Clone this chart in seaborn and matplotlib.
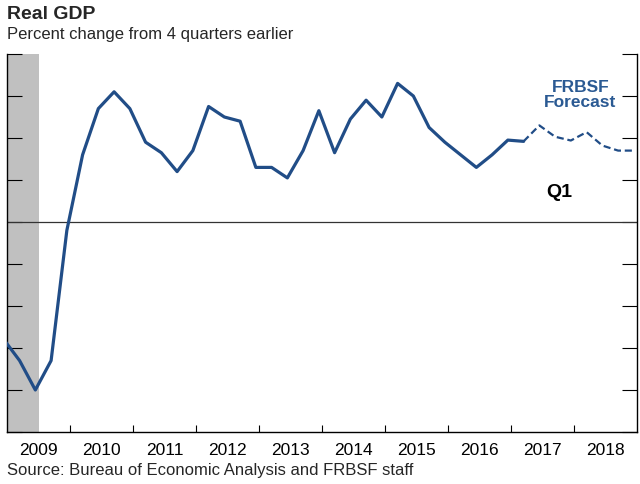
import matplotlib
matplotlib.use("Agg")
import matplotlib.pyplot as plt
import seaborn as sns
import pandas as pd
import numpy as np
from matplotlib.ticker import FixedLocator, NullFormatter, FixedFormatter

# ---- data ----
hist_quarters = ["2008Q4",
                 "2009Q1", "2009Q2", "2009Q3", "2009Q4",
                 "2010Q1", "2010Q2", "2010Q3", "2010Q4",
                 "2011Q1", "2011Q2", "2011Q3", "2011Q4",
                 "2012Q1", "2012Q2", "2012Q3", "2012Q4",
                 "2013Q1", "2013Q2", "2013Q3", "2013Q4",
                 "2014Q1", "2014Q2", "2014Q3", "2014Q4",
                 "2015Q1", "2015Q2", "2015Q3", "2015Q4",
                 "2016Q1", "2016Q2", "2016Q3", "2016Q4",
                 "2017Q1"]
hist_values = [-2.8,
               -3.3, -4.0, -3.3, -0.2,
               1.6, 2.7, 3.1, 2.7,
               1.9, 1.65, 1.2, 1.7,
               2.75, 2.5, 2.4, 1.3,
               1.3, 1.05, 1.7, 2.65,
               1.65, 2.45, 2.9, 2.5,
               3.3, 3.0, 2.25, 1.9,
               1.6, 1.3, 1.6, 1.95,
               1.92]
fcst_quarters = ["2017Q1", "2017Q2", "2017Q3", "2017Q4",
                 "2018Q1", "2018Q2", "2018Q3", "2018Q4"]
fcst_values = [1.92, 2.3, 2.03, 1.94, 2.14, 1.82, 1.7, 1.7]
year_labels = ["2009", "2010", "2011", "2012", "2013",
               "2014", "2015", "2016", "2017", "2018"]
recession = (2009.0, 2009.5)


def qpos(q):
    y, n = q.split("Q")
    return int(y) + 0.25 * int(n) - 0.05


hist = pd.DataFrame({"x": [qpos(q) for q in hist_quarters], "y": hist_values})
fcst = pd.DataFrame({"x": [qpos(q) for q in fcst_quarters], "y": fcst_values})

sns.set_style("white")
plt.rcParams["font.family"] = ["Liberation Sans", "DejaVu Sans"]

fig = plt.figure(figsize=(6.4, 4.85), dpi=100)
ax = fig.add_axes([7 / 640, 1 - 433 / 485, 630 / 640, 378 / 485])

blue = "#214d87"
ax.axvspan(recession[0], recession[1], color="#c0c0c0", lw=0, zorder=0)
ax.axhline(0, color="#333333", lw=0.9, zorder=1)

sns.lineplot(data=hist, x="x", y="y", ax=ax, color=blue, lw=2.3,
             sort=False, zorder=3)
sns.lineplot(data=fcst, x="x", y="y", ax=ax, color=blue, lw=1.6,
             sort=False, zorder=3, dashes=False, linestyle=(0, (3.2, 1.7)))

years = [int(y) for y in year_labels]
ax.set_xlim(years[0], years[-1] + 1)
ax.set_ylim(-5, 4)

ax.xaxis.set_major_locator(FixedLocator(years[1:]))
ax.xaxis.set_major_formatter(NullFormatter())
ax.xaxis.set_minor_locator(FixedLocator([y + 0.5 for y in years]))
ax.xaxis.set_minor_formatter(FixedFormatter(year_labels))
ax.tick_params(axis="x", which="major", direction="in", length=5, width=0.8,
               color="black", bottom=True)
ax.tick_params(axis="x", which="minor", length=0, labelsize=12.5, pad=7,
               labelcolor="black")

ax.yaxis.set_major_locator(FixedLocator(np.arange(-5, 5, 1)))
ax.yaxis.set_major_formatter(NullFormatter())
ax.tick_params(axis="y", which="major", direction="in", length=11, width=0.8,
               color="black", left=True, right=True)

for s in ["left", "right", "bottom"]:
    ax.spines[s].set_visible(True)
    ax.spines[s].set_color("black")
    ax.spines[s].set_linewidth(1.0)
ax.spines["top"].set_visible(False)
ax.set_xlabel("")
ax.set_ylabel("")
ax.grid(False)

ax.text(2018.10, 3.05, "FRBSF\nForecast", color="#2b5a93", fontsize=12.5,
        fontweight="bold", ha="center", va="center", linespacing=1.0)
ax.text(2017.76, 0.72, "Q1", color="black", fontsize=14, fontweight="bold",
        ha="center", va="center")

fig.text(7 / 640, 1 - 6 / 485, "Real GDP", fontsize=14, fontweight="bold",
         ha="left", va="top")
fig.text(7 / 640, 1 - 27 / 485, "Percent change from 4 quarters earlier",
         fontsize=12, ha="left", va="top")
fig.text(7 / 640, 1 - 475 / 485, "Source: Bureau of Economic Analysis and FRBSF staff",
         fontsize=12, ha="left", va="baseline")

fig.savefig("out.png", dpi=100)
